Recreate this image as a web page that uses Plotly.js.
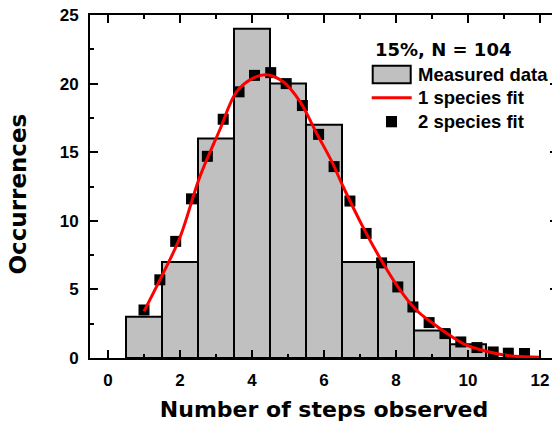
<!DOCTYPE html>
<html>
<head>
<meta charset="utf-8">
<script src="https://cdn.plot.ly/plotly-3.0.1.min.js"></script>
<style>
  html, body { margin: 0; padding: 0; overflow: hidden; background: #fff; }
  #chart { width: 560px; height: 422px; }
</style>
</head>
<body>
<div id="chart"></div>
<script>
// Histogram of observed step counts (15% sample, N = 104) with two model fits.
const steps = [1, 2, 3, 4, 5, 6, 7, 8, 9, 10, 11];
const occurrences = [3, 7, 16, 24, 20, 17, 7, 7, 2, 1, 0];

// One-species fit (smooth curve)
const fit1X = [1.0, 1.5, 2.0, 2.55, 3.1, 3.57, 4.03, 4.4, 4.86, 5.33, 5.79, 6.2, 6.53,
               7.08, 7.64, 8.1, 8.57, 9.03, 9.49, 9.96, 10.4, 10.88, 11.3, 12.0];
const fit1Y = [3.4, 6.0, 8.8, 13.2, 16.6, 19.4, 20.4, 20.65, 20.15, 18.7, 16.4, 14.4, 12.5,
               9.56, 6.9, 5.0, 3.48, 2.51, 1.66, 0.93, 0.56, 0.27, 0.12, 0.05];

// Two-species fit (sampled points)
const fit2X = [1.0, 1.44, 1.88, 2.32, 2.76, 3.2, 3.64, 4.07, 4.52, 4.95, 5.4, 5.85, 6.28,
               6.72, 7.17, 7.6, 8.05, 8.47, 8.92, 9.36, 9.8, 10.25, 10.7, 11.12, 11.57];
const fit2Y = [3.5, 5.7, 8.5, 11.6, 14.7, 17.4, 19.4, 20.6, 20.8, 20.0, 18.4, 16.3, 13.95,
               11.44, 9.08, 6.93, 5.18, 3.72, 2.58, 1.78, 1.17, 0.76, 0.44, 0.35, 0.33];

const xTickVals = [0, 2, 4, 6, 8, 10, 12];
const yTickVals = [0, 5, 10, 15, 20, 25];

const TITLE_FONT = 'DejaVu Sans';
const TEXT_FONT = 'Liberation Sans, Arial, sans-serif';
const BLACK = '#000000';

// plot-area geometry (pixels) used to place the hand-made legend
const M = { l: 90, r: 2, t: 15, b: 64 };
const W = 560 - M.l - M.r;
const H = 422 - M.t - M.b;
const px = x => (x - M.l) / W;
const py = y => (M.t + H - y) / H;

const traces = [
  {
    type: 'bar', x: steps, y: occurrences, width: 1,
    marker: { color: '#c0c0c0', line: { color: BLACK, width: 2 } },
    hoverinfo: 'x+y', showlegend: false
  },
  {
    type: 'scatter', mode: 'markers', x: fit2X, y: fit2Y,
    marker: { symbol: 'square', size: 11, color: BLACK },
    showlegend: false
  },
  {
    type: 'scatter', mode: 'lines', x: fit1X, y: fit1Y,
    line: { color: '#ff0000', width: 3, shape: 'spline', smoothing: 1 },
    showlegend: false
  }
];

const axisCommon = {
  showline: true, linewidth: 2, linecolor: BLACK, mirror: 'ticks',
  ticks: 'inside', ticklen: 8, tickwidth: 2, tickcolor: BLACK,
  showgrid: false, zeroline: false,
  tickfont: { family: TEXT_FONT, size: 17, color: BLACK, weight: 'bold' }
};

const legendText = [
  { text: 'Measured data', y: 74.5 },
  { text: '1 species fit', y: 97.5 },
  { text: '2 species fit', y: 121.5 }
];

const layout = {
  width: 560, height: 422,
  margin: M,
  paper_bgcolor: '#ffffff', plot_bgcolor: '#ffffff',
  bargap: 0,
  xaxis: Object.assign({}, axisCommon, {
    range: [-0.5, 12.5], tickmode: 'array', tickvals: xTickVals,
    ticktext: xTickVals.map(String), ticklabelstandoff: 6,
    minor: { dtick: 1, tick0: 0, ticks: 'inside', ticklen: 4, tickwidth: 2, tickcolor: BLACK, showgrid: false },
    title: { text: 'Number of steps observed', standoff: 12,
             font: { family: TITLE_FONT, size: 22, color: BLACK, weight: 'bold' } }
  }),
  yaxis: Object.assign({}, axisCommon, {
    range: [0, 25], tickmode: 'array', tickvals: yTickVals,
    ticktext: yTickVals.map(String), ticklabelstandoff: 6,
    minor: { dtick: 2.5, tick0: 0, ticks: 'inside', ticklen: 4, tickwidth: 2, tickcolor: BLACK, showgrid: false }
  }),
  shapes: [
    { type: 'rect', xref: 'paper', yref: 'paper',
      x0: px(372.7), x1: px(410.7), y0: py(83.3), y1: py(65.7),
      fillcolor: '#c0c0c0', line: { color: BLACK, width: 2 } },
    { type: 'line', xref: 'paper', yref: 'paper',
      x0: px(371.7), x1: px(411.7), y0: py(97.7), y1: py(97.7),
      line: { color: '#ff0000', width: 3 } },
    { type: 'rect', xref: 'paper', yref: 'paper',
      x0: px(386), x1: px(397), y0: py(127.3), y1: py(116),
      fillcolor: BLACK, line: { width: 0 } }
  ],
  annotations: [
    { text: '15%, N = 104', xref: 'paper', yref: 'paper', x: px(372.7), y: py(49),
      xanchor: 'left', yanchor: 'middle', showarrow: false,
      font: { family: TITLE_FONT, size: 18, color: BLACK, weight: 'bold' } },
    ...legendText.map(d => ({
      text: d.text, xref: 'paper', yref: 'paper', x: px(416), y: py(d.y),
      xanchor: 'left', yanchor: 'middle', showarrow: false,
      font: { family: TEXT_FONT, size: 18.5, color: BLACK, weight: 'bold' }
    })),
    { text: 'Occurrences', xref: 'paper', yref: 'paper', x: px(17.5), y: py(194),
      xanchor: 'center', yanchor: 'middle', textangle: -90, showarrow: false,
      font: { family: TITLE_FONT, size: 23, color: BLACK, weight: 'bold' } }
  ],
  showlegend: false
};

Plotly.newPlot('chart', traces, layout, { displayModeBar: false, staticPlot: true });
</script>
</body>
</html>
